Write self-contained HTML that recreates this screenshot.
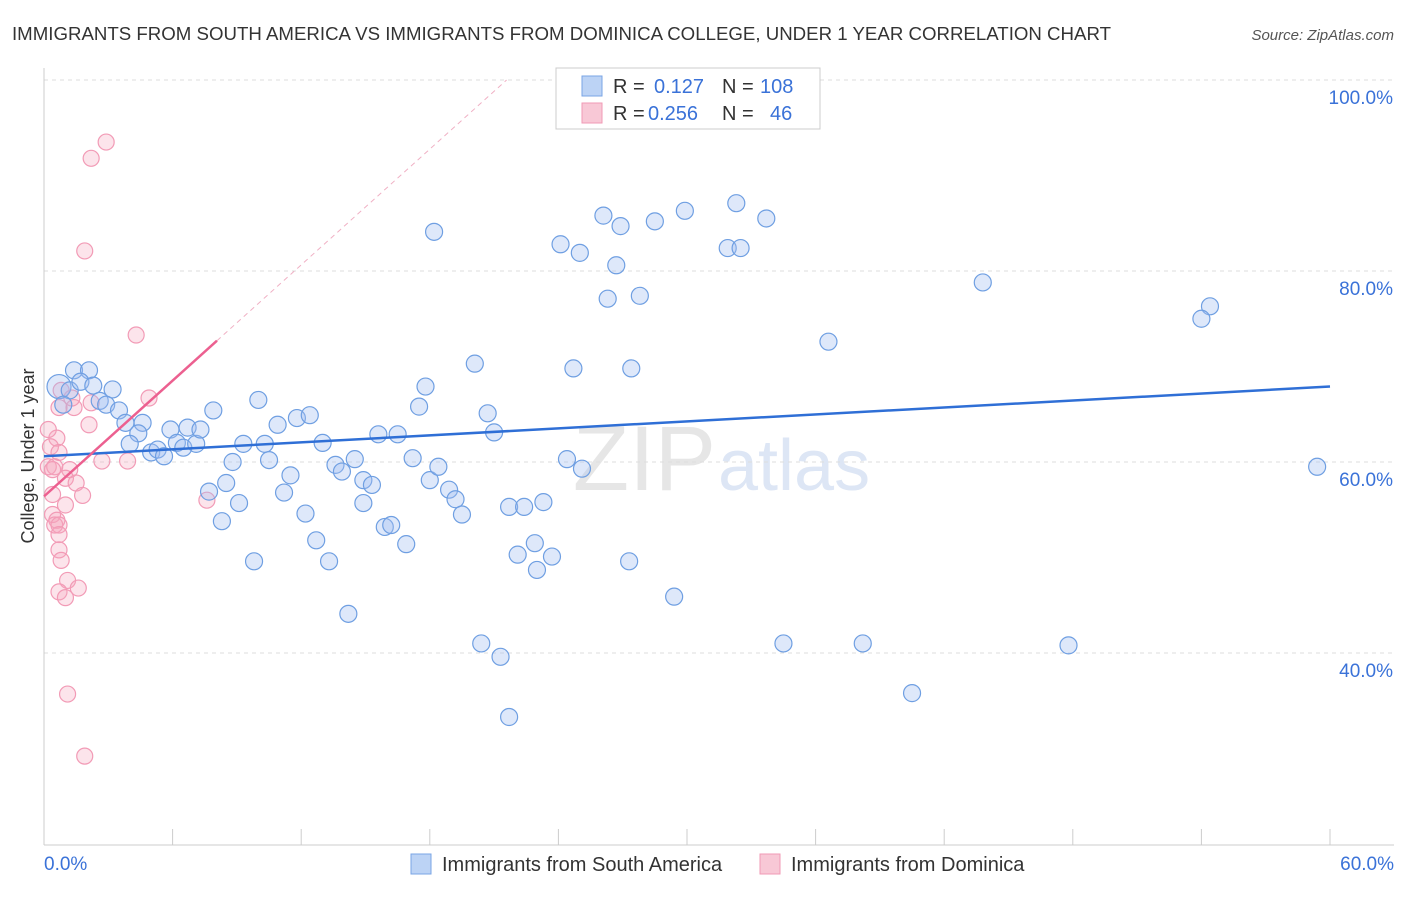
<!DOCTYPE html>
<html><head><meta charset="utf-8"><style>
body{margin:0;background:#fff;font-family:"Liberation Sans",sans-serif}
svg text{font-family:"Liberation Sans",sans-serif}
</style></head><body>
<svg id="chart" width="1406" height="892">
<text x="12" y="40" font-size="18" fill="#333" textLength="1099" lengthAdjust="spacingAndGlyphs">IMMIGRANTS FROM SOUTH AMERICA VS IMMIGRANTS FROM DOMINICA COLLEGE, UNDER 1 YEAR CORRELATION CHART</text>
<text x="1394" y="40" font-size="15" fill="#555" text-anchor="end" font-style="italic">Source: ZipAtlas.com</text>
<text x="716" y="490" font-size="92" fill="#e6e6e6" text-anchor="end" font-family="Liberation Serif">ZIP</text>
<text x="718" y="490" font-size="72" fill="#dde6f5">atlas</text>
<g id="grid"></g>
<g id="axes"></g>
<g id="marks"></g>
<text transform="translate(34,456) rotate(-90)" font-size="18" fill="#333" text-anchor="middle">College, Under 1 year</text>
<g>
<rect x="556" y="68" width="264" height="61" fill="#fff" stroke="#ccc"/>
<rect x="582" y="76" width="20" height="20" fill="#bcd3f5" stroke="#7aa5e5"/>
<text x="613" y="93" font-size="20" fill="#333">R = </text><text x="654" y="93" font-size="20" fill="#3a72d8">0.127</text>
<text x="722" y="93" font-size="20" fill="#333">N =</text><text x="760" y="93" font-size="20" fill="#3a72d8">108</text>
<rect x="582" y="103" width="20" height="20" fill="#f8c8d6" stroke="#f09ab5"/>
<text x="613" y="120" font-size="20" fill="#333">R = </text><text x="648" y="120" font-size="20" fill="#3a72d8">0.256</text>
<text x="722" y="120" font-size="20" fill="#333">N =</text><text x="770" y="120" font-size="20" fill="#3a72d8">46</text>
</g>
<g>
<rect x="411" y="854" width="20" height="20" fill="#bcd3f5" stroke="#7aa5e5"/>
<text x="442" y="871" font-size="20" fill="#333">Immigrants from South America</text>
<rect x="760" y="854" width="20" height="20" fill="#f8c8d6" stroke="#f09ab5"/>
<text x="791" y="871" font-size="20" fill="#333">Immigrants from Dominica</text>
</g>
</svg>
<script>
const yTicks=[40,60,80,100];
const yTickLabels=["40.0%","60.0%","80.0%","100.0%"];
const xTickLabels=["0.0%","60.0%"];
const blueX=[35.3,18.2,26.1,26.9,28.5,29.9,32.3,33.7,24.1,25.0,26.7,31.9,32.5,26.3,27.8,43.8,54.4,54.0,36.6,20.1,24.7,27.4,59.4,0.7,1.2,1.4,2.1,1.7,2.3,3.2,0.9,2.6,2.9,3.5,3.8,4.6,4.4,4.0,5.0,5.3,5.6,5.9,6.2,6.5,6.7,7.1,7.3,7.9,8.8,9.3,10.3,10.0,10.5,10.9,11.8,12.4,13.0,11.5,11.2,8.5,9.1,7.7,8.3,9.8,12.2,12.7,13.3,13.6,13.9,14.5,14.9,15.3,14.9,15.6,16.5,15.9,16.2,16.9,17.2,17.5,17.8,18.0,18.4,18.9,19.2,19.5,20.7,21.0,21.7,22.4,23.3,22.1,22.9,23.0,23.7,24.4,25.1,27.3,29.4,14.2,20.4,21.3,21.7,34.5,38.2,40.5,47.8];
const blueY=[100,84.1,85.8,84.7,85.2,86.3,87.1,85.5,82.8,81.9,80.6,82.4,82.4,77.1,77.4,78.8,76.3,75.0,72.6,70.3,69.8,69.8,59.5,67.9,67.5,69.6,69.6,68.4,68.0,67.6,66.0,66.4,66.0,65.4,64.1,64.1,63.0,61.9,61.0,61.3,60.6,63.4,62.0,61.5,63.6,61.9,63.4,65.4,60.0,61.9,61.9,66.5,60.2,63.9,64.6,64.9,62.0,58.6,56.8,57.8,55.7,56.9,53.8,49.6,54.6,51.8,49.6,59.7,59.0,60.3,58.1,57.6,55.7,62.9,62.9,53.2,53.4,51.4,60.4,65.8,67.9,58.1,59.5,57.1,56.1,54.5,65.1,63.1,55.3,55.3,55.8,50.3,51.5,48.7,50.1,60.3,59.3,49.6,45.9,44.1,41.0,39.6,33.3,41.0,41.0,35.8,40.8];
const pinkX=[2.9,2.2,1.9,4.3,4.9,0.8,1.4,1.3,2.2,0.7,2.1,0.6,0.3,0.7,2.7,3.9,0.2,0.5,1.2,1.0,1.5,0.4,1.8,7.6,1.0,0.4,0.6,0.5,0.7,0.7,0.7,0.8,1.1,0.7,1.6,1.0,1.1,1.9,0.2,0.4];
const pinkY=[93.5,91.8,82.1,73.3,66.7,67.5,65.7,66.7,66.2,65.7,63.9,62.5,61.6,61.0,60.1,60.1,59.5,59.5,59.2,58.3,57.8,56.6,56.5,56.0,55.5,54.5,53.9,53.4,53.4,52.4,50.8,49.7,47.6,46.4,46.8,45.8,35.7,29.2,63.4,59.2];
const blueTrend=[60.6,67.9];
const pinkTrend=[56.4,2.02];
const NS='http://www.w3.org/2000/svg';
const X0=44,X1=1330,Y100=80,PPY=9.55;
function sx(v){return X0+v/60*(X1-X0);}
function sy(v){return Y100+(100-v)*PPY;}
function mk(tag,attrs,parent){const e=document.createElementNS(NS,tag);for(const k in attrs)e.setAttribute(k,attrs[k]);parent.appendChild(e);return e;}
const grid=document.getElementById('grid'),axes=document.getElementById('axes'),marks=document.getElementById('marks');
yTicks.forEach((t,i)=>{
 const l=mk('line',{x1:X0,x2:1394,y1:sy(t),y2:sy(t),stroke:'#ddd','stroke-dasharray':'4,4'},grid);
 
 
 const tx=mk('text',{x:1393,y:sy(t)+24,'font-size':19,fill:'#3a72d8','text-anchor':'end'},axes);
 tx.textContent=yTickLabels[i];
 
 
});
const ax=mk('line',{x1:X0,x2:1394,y1:845,y2:845,stroke:'#ccc'},axes);


const ay=mk('line',{x1:X0,x2:X0,y1:68,y2:845,stroke:'#ccc'},axes);


for(let v=0;v<=60;v+=6){
 const tk=mk('line',{x1:sx(v),x2:sx(v),y1:829,y2:845,stroke:'#ccc'},axes);
 
 
}
const xl0=mk('text',{x:44,y:870,'font-size':19,fill:'#3a72d8'},axes);xl0.textContent=xTickLabels[0];


const xl1=mk('text',{x:1394,y:870,'font-size':19,fill:'#3a72d8','text-anchor':'end'},axes);xl1.textContent=xTickLabels[1];


const pEnd=(100-pinkTrend[0])/pinkTrend[1];
const pd=mk('line',{x1:sx(8.07),y1:sy(pinkTrend[0]+pinkTrend[1]*8.07),x2:sx(pEnd),y2:sy(100),stroke:'#f0b0c4','stroke-dasharray':'5,4'},marks);


pinkX.forEach((x,i)=>{
 const c=mk('circle',{cx:sx(x),cy:sy(pinkY[i]),r:8,fill:'rgba(245,165,190,0.3)',stroke:'#f29bb6','stroke-width':1.2},marks);
 
 
});
blueX.forEach((x,i)=>{
 const r=(i===23)?12:8.5;
 const c=mk('circle',{cx:sx(x),cy:sy(blueY[i]),r:r,fill:'rgba(160,190,240,0.35)',stroke:'#6f9fe2','stroke-width':1.2},marks);
 
 
});
const bl=mk('line',{x1:sx(0),y1:sy(blueTrend[0]),x2:sx(60),y2:sy(blueTrend[1]),stroke:'#2f6fd6','stroke-width':2.5},marks);


const pl=mk('line',{x1:sx(0),y1:sy(pinkTrend[0]),x2:sx(8.07),y2:sy(pinkTrend[0]+pinkTrend[1]*8.07),stroke:'#ec6090','stroke-width':2.5},marks);


</script>
</body></html>
